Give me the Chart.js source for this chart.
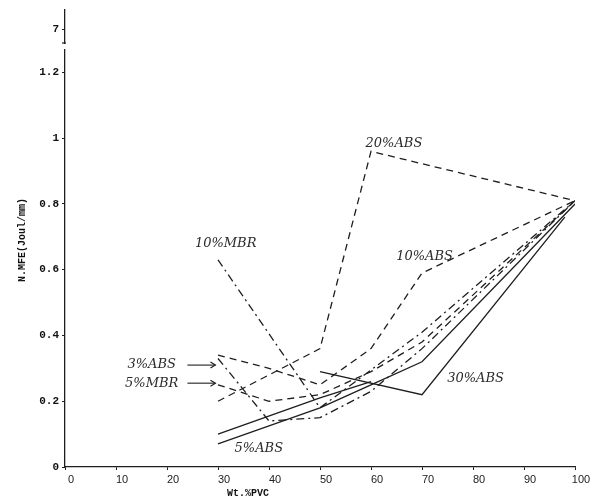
<!DOCTYPE html>
<html><head><meta charset="utf-8">
<script src="https://cdn.jsdelivr.net/npm/chart.js@4"></script>
<style>html,body{margin:0;padding:0;background:#fff}#wrap{width:592px;height:496px}</style>
</head><body><div id="wrap"><canvas id="c" width="592" height="496"></canvas></div>
<script>
// ---- data ----
const xTicks = [0,10,20,30,40,50,60,70,80,90,100];
const yTicks = [0,0.2,0.4,0.6,0.8,1,1.2];
const yBreakTick = 1.33;           // the "7" tick above the axis break
const yBreakLabel = "7";

const abs20X = [30,50,60,100];            const abs20Y = [0.20,0.36,0.96,0.81];
const abs10X = [30,40,50,60,70,100];      const abs10Y = [0.34,0.30,0.25,0.36,0.59,0.81];
const mbr10X = [30,50,70,100];            const mbr10Y = [0.63,0.18,0.41,0.81];
const mbr5X  = [30,40,50,60,70,100];      const mbr5Y  = [0.25,0.20,0.22,0.29,0.38,0.81];
const abs3X  = [30,40,50,60,70,100];      const abs3Y  = [0.33,0.14,0.15,0.23,0.36,0.81];
const abs5X  = [30,50,60,70,100];         const abs5Y  = [0.07,0.18,0.25,0.32,0.80];
const solidX = [30,50,60];                const solidY = [0.10,0.21,0.26];
const abs30X = [50,70,98];                const abs30Y = [0.29,0.22,0.76];

const seriesNames = ["20%ABS","10%ABS","10%MBR","5%MBR","3%ABS","5%ABS","","30%ABS"];

// annotation labels (data coords)
const notes = [
  {t:"20%ABS", x:64.5, y:0.985},
  {t:"10%MBR", x:31.5, y:0.68},
  {t:"10%ABS", x:70.5, y:0.64},
  {t:"30%ABS", x:80.5, y:0.27},
  {t:"5%ABS",  x:38,   y:0.055},
  {t:"3%ABS",  x:17,   y:0.31, arrow:[24,29.5]},
  {t:"5%MBR",  x:17,   y:0.255, arrow:[24,29.5]}
];

const DASH = [7,5], DOT = [8,4,2,4];
const ink = '#1e1e1e';
function pts(xs, ys){ return xs.map((x,i)=>({x, y:ys[i]})); }
function ds(name, xs, ys, dash){
  return {label:name, data:pts(xs,ys), borderColor:ink, borderWidth:1.3, borderDash:dash,
          pointRadius:0, fill:false, tension:0};
}

const extras = {
  id:'extras',
  afterDraw(chart){
    const ctx = chart.ctx, xs = chart.scales.x, ys = chart.scales.y;
    ctx.save();
    // axis break near the top
    ctx.fillStyle = '#fff';
    ctx.fillRect(61, 44, 8, 5);
    ctx.strokeStyle = ink; ctx.lineWidth = 1.2;
    ctx.beginPath(); ctx.moveTo(62,43); ctx.lineTo(66,43); ctx.stroke();
    // notes
    ctx.fillStyle = '#2a2a2a';
    ctx.font = 'italic 13px "DejaVu Serif"';
    ctx.textAlign = 'center'; ctx.textBaseline = 'middle';
    notes.forEach(n=>{
      const px = xs.getPixelForValue(n.x), py = ys.getPixelForValue(n.y);
      ctx.fillText(n.t, px, py);
      if(n.arrow){
        const a = xs.getPixelForValue(n.arrow[0]), b = xs.getPixelForValue(n.arrow[1]);
        ctx.setLineDash([]); ctx.lineWidth = 1.1;
        ctx.beginPath(); ctx.moveTo(a,py); ctx.lineTo(b,py); ctx.stroke();
        ctx.beginPath(); ctx.moveTo(b-5,py-3); ctx.lineTo(b,py); ctx.lineTo(b-5,py+3); ctx.stroke();
      }
    });
    // axis titles
    ctx.fillStyle = '#111';
    ctx.font = 'bold 10px "Liberation Mono"';
    ctx.save(); ctx.translate(22, 240); ctx.rotate(-Math.PI/2);
    ctx.fillText('N.MFE(Joul/mm)', 0, 0); ctx.restore();
    ctx.fillText('Wt.%PVC', 248, 493);
    ctx.restore();
  }
};

new Chart(document.getElementById('c'), {
  type:'line',
  data:{datasets:[
    ds(seriesNames[0], abs20X, abs20Y, DASH),
    ds(seriesNames[1], abs10X, abs10Y, DASH),
    ds(seriesNames[2], mbr10X, mbr10Y, DOT),
    ds(seriesNames[3], mbr5X,  mbr5Y,  DASH),
    ds(seriesNames[4], abs3X,  abs3Y,  DOT),
    ds(seriesNames[5], abs5X,  abs5Y,  []),
    ds(seriesNames[6], solidX, solidY, []),
    ds(seriesNames[7], abs30X, abs30Y, [])
  ]},
  options:{
    responsive:false, animation:false,
    layout:{padding:{top:10,right:17,left:0,bottom:0}},
    plugins:{legend:{display:false}, tooltip:{enabled:false}},
    scales:{
      x:{type:'linear', min:0, max:100,
         afterBuildTicks(s){ s.ticks = xTicks.map(v=>({value:v})); },
         afterFit(s){ s.height = 29; },
         border:{color:ink, width:1.3},
         grid:{drawOnChartArea:false, tickLength:3, color:ink},
         ticks:{color:'#222', font:{family:'Liberation Sans', size:11}, labelOffset:6, padding:3, maxRotation:0,
                callback:v=>String(v)}},
      y:{type:'linear', min:0, max:1.39,
         afterBuildTicks(s){ s.ticks = yTicks.concat([yBreakTick]).map(v=>({value:v})); },
         afterFit(s){ s.width = 65; },
         border:{color:ink, width:1.3},
         grid:{drawOnChartArea:false, tickLength:3, color:ink},
         ticks:{color:'#111', font:{family:'Liberation Mono', size:11, weight:'bold'}, padding:3,
                callback:v=> Math.abs(v-yBreakTick)<1e-6 ? yBreakLabel : String(Math.round(v*10)/10)}}
    }
  },
  plugins:[extras]
});
</script></body></html>
